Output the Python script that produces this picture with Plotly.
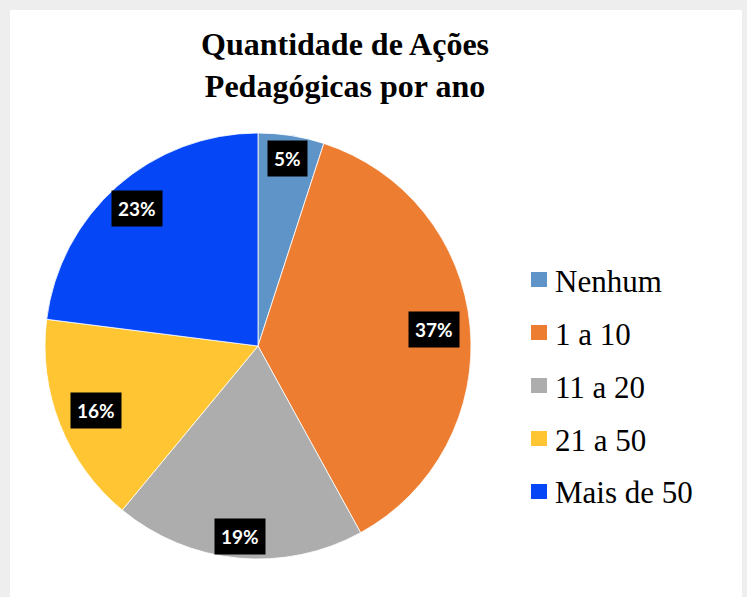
import math
import plotly.graph_objects as go

categories = ["Nenhum", "1 a 10", "11 a 20", "21 a 50", "Mais de 50"]
values = [5, 37, 19, 16, 23]
colors = ["#5F94C9", "#ED7D31", "#ADADAD", "#FFC532", "#0546F7"]
title_lines = ["Quantidade de Ações", "Pedagógicas por ano"]

W, H = 747, 597
cx, cy, R = 258, 346, 213
label_radius = [0.89, 0.83, 0.90, 0.82, 0.86]

def px(x):
    return x / W

def py(y):
    return 1 - y / H

fig = go.Figure()
fig.add_trace(go.Pie(
    labels=categories,
    values=values,
    sort=False,
    direction="clockwise",
    rotation=0,
    marker=dict(colors=colors, line=dict(color="white", width=0.8)),
    textinfo="none",
    hoverinfo="label+percent",
    showlegend=False,
    domain=dict(x=[px(cx - R), px(cx + R)], y=[py(cy + R), py(cy - R)]),
))

annotations = []
total = sum(values)
cum = 0
for v, rf in zip(values, label_radius):
    mid = (cum + v / 2) / total * 2 * math.pi
    cum += v
    lx = cx + rf * R * math.sin(mid)
    ly = cy - rf * R * math.cos(mid)
    annotations.append(dict(
        x=px(lx), y=py(ly), xref="paper", yref="paper",
        text=f"<b>{round(v / total * 100)}%</b>", showarrow=False,
        font=dict(family="Lato, Liberation Sans, sans-serif", size=19, color="white"),
        bgcolor="black", borderpad=6, xanchor="center", yanchor="middle",
    ))

# title
annotations.append(dict(
    x=px(345), y=py(65), xref="paper", yref="paper",
    text="<b>" + "<br>".join(title_lines) + "</b>", showarrow=False,
    font=dict(family="Liberation Serif, DejaVu Serif, serif", size=32, color="black"),
    align="center", xanchor="center", yanchor="middle",
))

# frame and custom legend
shapes = [
    dict(type="rect", xref="paper", yref="paper", x0=0, x1=1, y0=0, y1=1,
         fillcolor="#eeeeee", line=dict(width=0), layer="below"),
    dict(type="rect", xref="paper", yref="paper", x0=px(10), x1=px(742), y0=0, y1=py(10),
         fillcolor="white", line=dict(width=0), layer="below"),
]
leg_y0, leg_dy = 281, 53
for i, (cat, col) in enumerate(zip(categories, colors)):
    yc = leg_y0 + i * leg_dy
    shapes.append(dict(type="rect", xref="paper", yref="paper",
                       x0=px(531), x1=px(547), y0=py(yc + 6), y1=py(yc - 9),
                       fillcolor=col, line=dict(width=0)))
    annotations.append(dict(
        x=px(553), y=py(yc), xref="paper", yref="paper", text=cat, showarrow=False,
        font=dict(family="Liberation Serif, DejaVu Serif, serif", size=31, color="black"),
        xanchor="left", yanchor="middle",
    ))

fig.update_layout(
    width=W, height=H,
    margin=dict(l=0, r=0, t=0, b=0),
    paper_bgcolor="white",
    plot_bgcolor="white",
    annotations=annotations,
    shapes=shapes,
    showlegend=False,
)

fig.write_html("out.html", config={"displayModeBar": False},
               post_script="document.body.style.margin='0px';document.body.style.overflow='hidden';")
